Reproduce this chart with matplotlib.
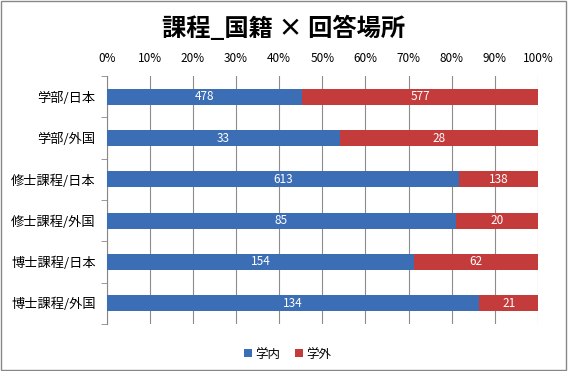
import matplotlib
matplotlib.use('Agg')
import matplotlib.pyplot as plt
from matplotlib.patches import Rectangle

plt.rcParams['font.family'] = ['Noto Sans CJK JP', 'DejaVu Sans']

# data
categories = ['学部/日本', '学部/外国', '修士課程/日本', '修士課程/外国', '博士課程/日本', '博士課程/外国']
inside = [478, 33, 613, 85, 154, 134]
outside = [577, 28, 138, 20, 62, 21]
series_names = ['学内', '学外']
xticks = [0, 10, 20, 30, 40, 50, 60, 70, 80, 90, 100]

blue = '#3C6EB5'
red = '#C33B3B'

fig = plt.figure(figsize=(5.68, 3.71), dpi=100)
ax = fig.add_axes([0.188, 0.127, 0.759, 0.668])

totals = [a + b for a, b in zip(inside, outside)]
pin = [a / t * 100 for a, t in zip(inside, totals)]
pout = [b / t * 100 for b, t in zip(outside, totals)]
ypos = list(range(len(categories)))

b1 = ax.barh(ypos, pin, height=0.39, color=blue, label=series_names[0], zorder=3)
b2 = ax.barh(ypos, pout, left=pin, height=0.39, color=red, label=series_names[1], zorder=3)

for bars, vals in ((b1, inside), (b2, outside)):
    for bar, v in zip(bars, vals):
        ax.text(bar.get_x() + bar.get_width() / 2, bar.get_y() + bar.get_height() / 2,
                str(v), ha='center', va='center', color='white', fontsize=8.5, zorder=4)

ax.set_xlim(0, 100)
ax.set_ylim(len(categories) - 0.5, -0.5)
ax.set_xticks(xticks)
ax.set_xticklabels([f'{t}%' for t in xticks], fontsize=8.5)
ax.xaxis.tick_top()
ax.tick_params(axis='x', length=0, pad=8)
ax.set_yticks(ypos)
ax.set_yticklabels(categories, fontsize=9.5)
ax.tick_params(axis='y', length=0, pad=8)
ax.set_yticks([y + 0.5 for y in [-1] + ypos], minor=True)
ax.tick_params(axis='y', which='minor', length=4, color='#888888')
ax.grid(axis='x', color='#8c8c8c', linewidth=0.8, zorder=0)
for s in ['top', 'right', 'bottom']:
    ax.spines[s].set_visible(False)
ax.spines['left'].set_color('#888888')

fig.suptitle('課程_国籍 × 回答場所', fontsize=17.5, fontweight='bold', y=0.958)

ax.legend(loc='upper center', bbox_to_anchor=(0.42, -0.05), ncol=2, frameon=False,
          fontsize=9, handlelength=0.6, handleheight=0.6, handletextpad=0.3, columnspacing=1.2)

fig.patches.append(Rectangle((0.002, 0.003), 0.995, 0.994, transform=fig.transFigure,
                             fill=False, edgecolor='#888888', linewidth=1))

fig.savefig('out.png', dpi=100)
